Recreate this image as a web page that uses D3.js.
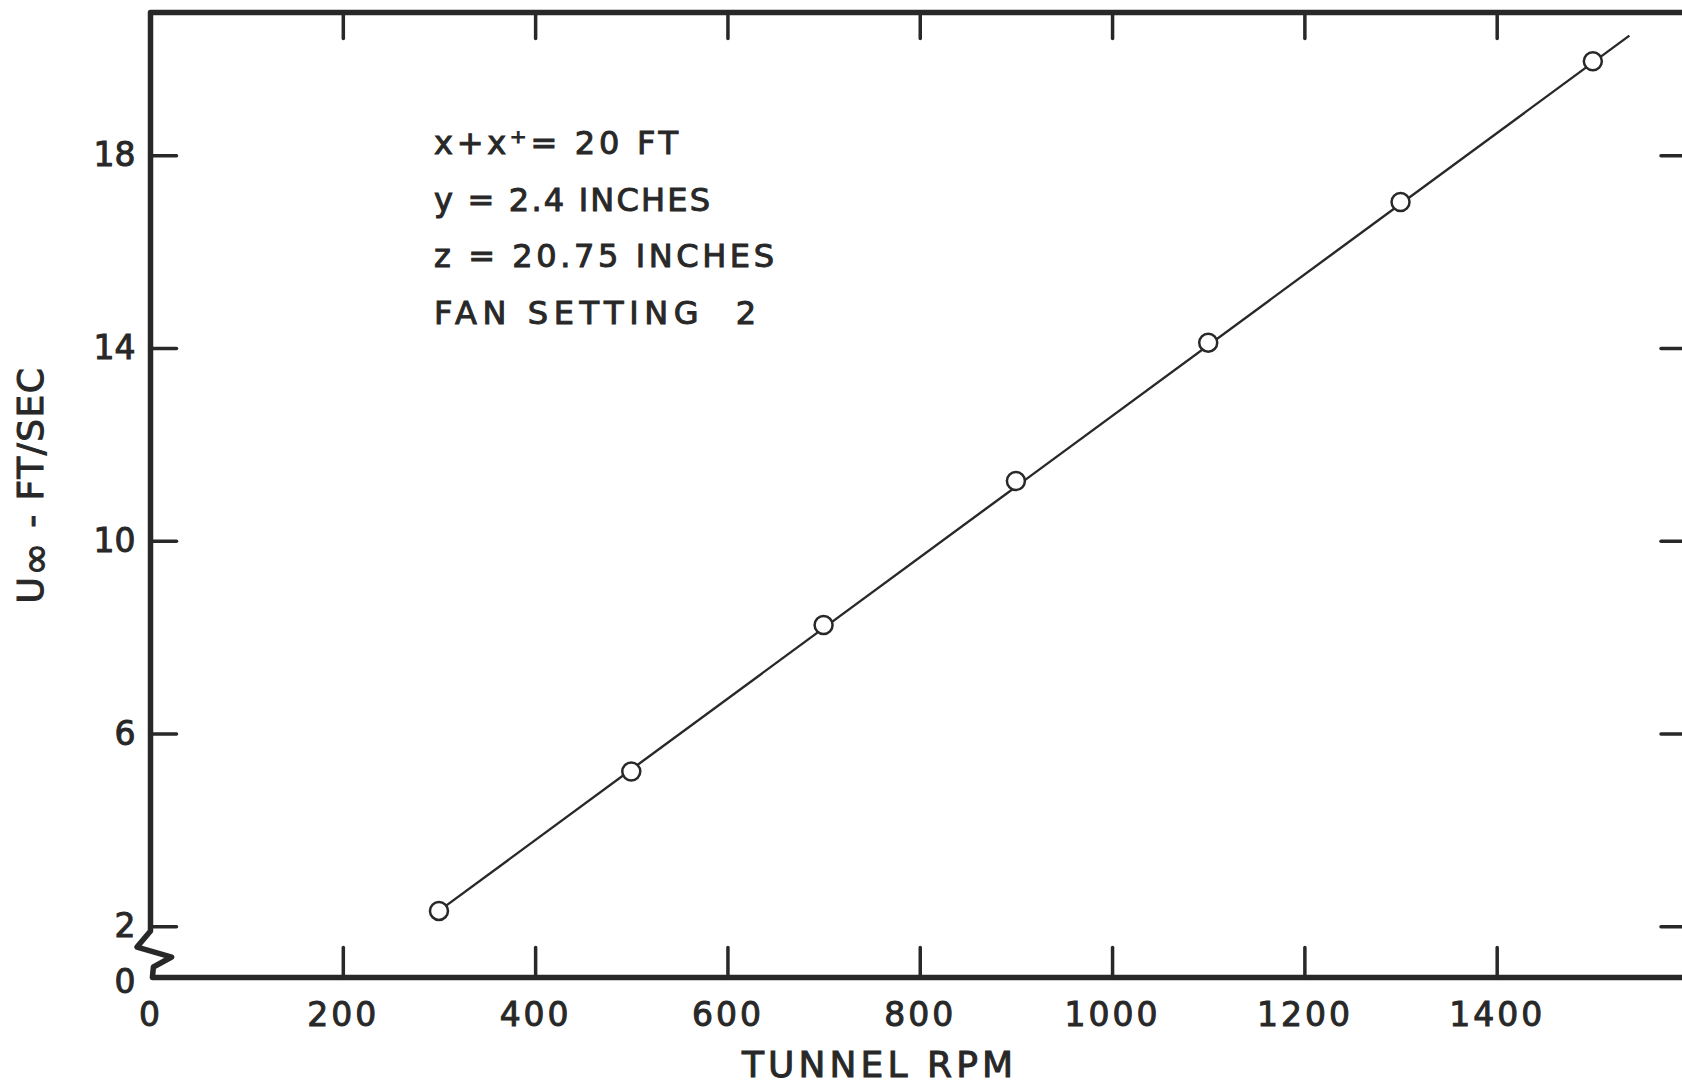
<!doctype html>
<html>
<head>
<meta charset="utf-8">
<script src="https://d3js.org/d3.v7.min.js"></script>
<style>
  body { margin: 0; background: #fff; }
  svg { display: block; }
  text { font-family: "DejaVu Sans", sans-serif; fill: #282828; stroke: #282828; stroke-width: 1px; white-space: pre; }
</style>
</head>
<body>
<svg width="1682" height="1086"></svg>
<script>
// data
var rpm = [300, 500, 700, 900, 1100, 1300, 1500];
var speed = [2.32, 5.21, 8.25, 11.24, 14.11, 17.03, 19.95];
// faired line through the points
var fitRpm = [300, 1538];
var fitSpeed = [2.32, 20.48];
var xTicks = [0, 200, 400, 600, 800, 1000, 1200, 1400];
var yTicks = [0, 2, 6, 10, 14, 18];
var notes = ["x+x\u207A= 20 FT", "y = 2.4 INCHES", "z = 20.75 INCHES", "FAN SETTING  2"];
// axis break (zigzag) between 0 and 2
var breakRpm = [0, -14, 22, 3, 2];
var breakSpeed = [1.82, 1.19, 0.80, 0.41, 0];

var ink = "#282828";
var svg = d3.select("svg");

var xScale = d3.scaleLinear().domain([0, 1600]).range([150.5, 1689]);
// piecewise: the 0..2 stretch is compressed by the break
var yScale = d3.scaleLinear().domain([0, 2, 20.96]).range([977.5, 926.3, 12.5]);

var yTop = yScale.domain()[2];
var xMax = xScale.domain()[1];

// frame with the break on the left side
var frame = [[xMax, yTop], [0, yTop]];
frame.push([0, breakSpeed[0]]);
breakRpm.forEach(function(r, i){ frame.push([r, breakSpeed[i]]); });
frame.push([xMax, 0]);
frame.push([xMax, yTop]);

var frameLine = d3.line()
    .x(d => xScale(d[0]))
    .y(d => yScale(d[1]));

svg.append("path")
    .attr("d", frameLine(frame))
    .attr("fill", "none")
    .attr("stroke", ink)
    .attr("stroke-width", 5.5)
    .attr("stroke-linejoin", "round");

function styleAxis(g){
    g.select(".domain").remove();
    g.attr("font-family", "DejaVu Sans").attr("font-size", 33).attr("color", ink);
    g.selectAll(".tick line").attr("stroke-width", 3.5).attr("stroke-linecap", "round");
}

// bottom
var xAxis = d3.axisBottom(xScale)
    .tickValues(xTicks)
    .tickFormat(d3.format("d"))
    .tickSizeInner(-30)
    .tickSizeOuter(0)
    .tickPadding(25);
var gx = svg.append("g")
    .attr("transform", "translate(0," + yScale(0) + ")")
    .call(xAxis)
    .call(styleAxis);
gx.selectAll(".tick").filter(d => d == 0).select("line").remove();
gx.selectAll(".tick text").attr("letter-spacing", 3);

// top
var xAxisTop = d3.axisTop(xScale)
    .tickValues(xTicks.slice(1))
    .tickSizeInner(-26)
    .tickSizeOuter(0)
    .tickFormat("");
svg.append("g")
    .attr("transform", "translate(0," + yScale(yTop) + ")")
    .call(xAxisTop)
    .call(styleAxis);

// left
var yAxis = d3.axisLeft(yScale)
    .tickValues(yTicks)
    .tickSizeInner(-26)
    .tickSizeOuter(0)
    .tickPadding(15);
var gy = svg.append("g")
    .attr("transform", "translate(" + xScale(0) + ",0)")
    .call(yAxis)
    .call(styleAxis);
gy.selectAll(".tick").filter(d => d == 0).select("line").remove();
gy.selectAll(".tick").filter(d => d == 0).select("text").attr("dy", "0.45em");

// right
var yAxisRight = d3.axisRight(yScale)
    .tickValues(yTicks.slice(1))
    .tickSizeInner(-28)
    .tickSizeOuter(0)
    .tickFormat("");
svg.append("g")
    .attr("transform", "translate(" + xScale(xMax) + ",0)")
    .call(yAxisRight)
    .call(styleAxis);

// faired line
var fit = fitRpm.map((r, i) => ({rpm: r, u: fitSpeed[i]}));
var fitLine = d3.line()
    .x(d => xScale(d.rpm))
    .y(d => yScale(d.u));
svg.append("path")
    .attr("d", fitLine(fit))
    .attr("fill", "none")
    .attr("stroke", ink)
    .attr("stroke-width", 2.4);

// measured points
var pts = rpm.map((r, i) => ({rpm: r, u: speed[i]}));
svg.selectAll("circle.pt")
    .data(pts)
    .enter()
    .append("circle")
    .attr("class", "pt")
    .attr("r", 9)
    .attr("cx", d => xScale(d.rpm))
    .attr("cy", d => yScale(d.u))
    .attr("fill", "#fff")
    .attr("stroke", ink)
    .attr("stroke-width", 2.5);

// notes block
var noteWidths = [244, 276, 340, 322];
svg.append("g")
    .attr("transform", "translate(434,154)")
    .selectAll("text")
    .data(notes)
    .enter()
    .append("text")
    .attr("y", (d, i) => i * 56.6)
    .attr("font-size", 32)
    .attr("textLength", (d, i) => noteWidths[i])
    .attr("lengthAdjust", "spacing")
    .text(d => d);

// axis titles
svg.append("text")
    .attr("x", 742)
    .attr("y", 1077)
    .attr("font-size", 36)
    .attr("textLength", 271)
    .attr("lengthAdjust", "spacing")
    .text("TUNNEL RPM");

var yt = svg.append("text")
    .attr("transform", "translate(43,485) rotate(-90)")
    .attr("text-anchor", "middle")
    .attr("font-size", 36)
    .attr("letter-spacing", 1.5);
yt.append("tspan").text("U");
yt.append("tspan").attr("font-size", 40).attr("dy", 6).text("\u221E");
yt.append("tspan").attr("dy", -6).text(" - FT/SEC");
</script>
</body>
</html>
